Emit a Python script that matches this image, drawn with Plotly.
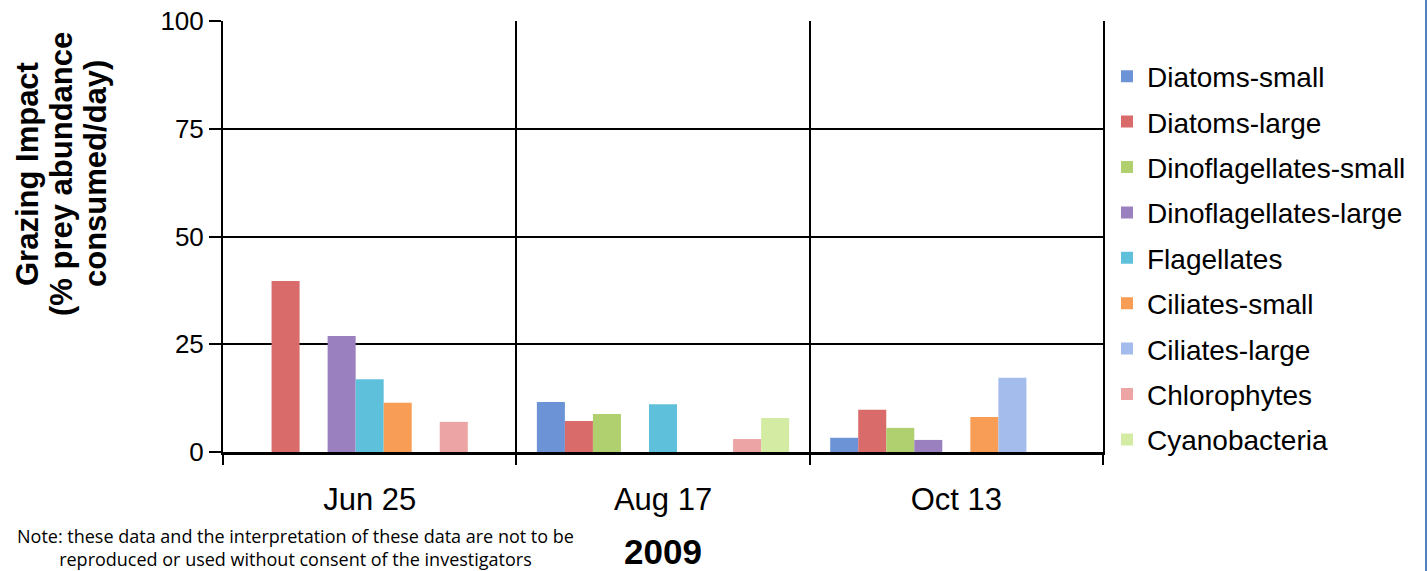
import plotly.graph_objects as go

dates = ["Jun 25", "Aug 17", "Oct 13"]
series_names = ["Diatoms-small", "Diatoms-large", "Dinoflagellates-small", "Dinoflagellates-large",
                "Flagellates", "Ciliates-small", "Ciliates-large", "Chlorophytes", "Cyanobacteria"]
diatoms_small = [0, 11.6, 3.3]
diatoms_large = [39.7, 7.2, 9.8]
dino_small = [0, 8.8, 5.6]
dino_large = [26.9, 0, 2.8]
flagellates = [16.9, 11.1, 0]
ciliates_small = [11.4, 0, 8.1]
ciliates_large = [0, 0, 17.2]
chlorophytes = [7.0, 3.0, 0]
cyanobacteria = [0, 7.9, 0]
values = [diatoms_small, diatoms_large, dino_small, dino_large, flagellates,
          ciliates_small, ciliates_large, chlorophytes, cyanobacteria]
colors = ["#6b93d6", "#d96b6b", "#b0d070", "#9a80bf", "#5fc0dc",
          "#f89d55", "#a3bcec", "#eca4a4", "#d4eba4"]
y_ticks = [0, 25, 50, 75, 100]

W, H = 1428, 571
ML, MR, MT, MB = 223, 325, 21, 119
PW, PH = W - ML - MR, H - MT - MB

def px_x(p):
    return (p - ML) / PW

def px_y(p):
    return (H - MB - p) / PH

fig = go.Figure()
for name, vals, col in zip(series_names, values, colors):
    fig.add_trace(go.Bar(name=name, x=dates, y=vals, legendgroup=name,
                         marker=dict(color=col, line=dict(width=0))))

fig.update_layout(
    width=W, height=H,
    margin=dict(l=ML, r=MR, t=MT, b=MB, autoexpand=False),
    barmode="group", bargap=0.14, bargroupgap=0,
    plot_bgcolor="white", paper_bgcolor="white",
    font=dict(family="Liberation Sans, Arial, sans-serif", color="black"),
    showlegend=True,
    legend=dict(x=px_x(1107), xanchor="left", y=px_y(258), yanchor="middle",
                font=dict(size=28, color="black"), bgcolor="rgba(0,0,0,0)",
                itemwidth=30, tracegroupgap=6, maxheight=560),
    xaxis=dict(type="category", tickson="boundaries", showgrid=True, gridcolor="black", gridwidth=1.5,
               ticks="outside", ticklen=10, tickwidth=2, tickcolor="black",
               showline=True, linecolor="black", linewidth=3,
               tickfont=dict(size=31), ticklabelstandoff=18),
    yaxis=dict(range=[0, 100], tickvals=y_ticks, showgrid=True, gridcolor="black", gridwidth=1.5,
               ticks="outside", ticklen=12, tickwidth=1.5, tickcolor="black",
               showline=True, linecolor="black", linewidth=2, mirror=True, zeroline=False,
               tickfont=dict(size=26)),
)

title_lines = ["Grazing Impact", "(% prey abundance", "consumed/day)"]
for i, t in enumerate(title_lines):
    fig.add_annotation(text="<b>%s</b>" % t, xref="paper", yref="paper",
                       x=px_x(27 + 34 * i), y=px_y(174), textangle=-90,
                       showarrow=False, font=dict(size=31, color="black"),
                       xanchor="center", yanchor="middle")

fig.add_annotation(text="<b>2009</b>", xref="paper", yref="paper",
                   x=px_x(663), y=px_y(551), showarrow=False,
                   font=dict(size=35, color="black"), xanchor="center", yanchor="middle")
fig.add_annotation(text="Note: these data and the interpretation of these data are not to be<br>reproduced or used without consent of the investigators",
                   xref="paper", yref="paper", x=px_x(295), y=px_y(547), showarrow=False,
                   font=dict(size=18, color="black", family="Open Sans, sans-serif"),
                   xanchor="center", yanchor="middle", align="center")

fig.add_shape(type="line", xref="paper", yref="paper", x0=px_x(1426), x1=px_x(1426),
              y0=px_y(571), y1=px_y(0), line=dict(color="#4f81bd", width=2))

fig.write_html("out.html")
